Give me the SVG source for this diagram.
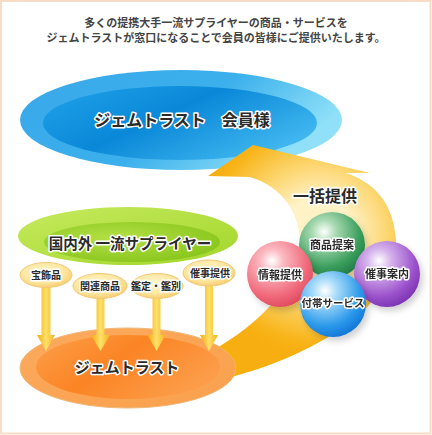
<svg xmlns="http://www.w3.org/2000/svg" width="432" height="435" viewBox="0 0 432 435">
<defs>
<style>
.t{font-family:"Noto Sans CJK JP","Noto Sans CJK SC",sans-serif;font-weight:bold;text-anchor:middle}
.title{fill:#444;font-size:11px}
.lbl{fill:#2a2a2a;stroke:#fff;stroke-width:3;paint-order:stroke;stroke-linejoin:round}
.tag{fill:url(#gTag);stroke:#f3c877;stroke-width:1}
.arr{fill:url(#gArr)}
</style>
<linearGradient id="gBlueOut" x1="0" y1="0" x2="1" y2="0.4">
<stop offset="0" stop-color="#39a7ea"/><stop offset="0.6" stop-color="#3bb0ec"/><stop offset="1" stop-color="#8fe0f8"/>
</linearGradient>
<linearGradient id="gBlueIn" x1="0" y1="0" x2="1" y2="0.6">
<stop offset="0" stop-color="#21a3ea"/><stop offset="0.5" stop-color="#0a88d8"/><stop offset="1" stop-color="#3fb6ef"/>
</linearGradient>
<linearGradient id="gGreenOut" x1="0" y1="0" x2="1" y2="1">
<stop offset="0" stop-color="#c6ea5e"/><stop offset="1" stop-color="#a2d62a"/>
</linearGradient>
<radialGradient id="gGreenIn" cx="0.4" cy="0.4" r="0.7">
<stop offset="0" stop-color="#b4e046"/><stop offset="1" stop-color="#86c41a"/>
</radialGradient>
<linearGradient id="gOrOut" x1="0" y1="0" x2="1" y2="1">
<stop offset="0" stop-color="#fcaa5e"/><stop offset="1" stop-color="#f9a04c"/>
</linearGradient>
<linearGradient id="gOrIn" x1="0" y1="0" x2="1" y2="0.5">
<stop offset="0" stop-color="#fda04a"/><stop offset="0.5" stop-color="#fb8424"/><stop offset="1" stop-color="#fc9c48"/>
</linearGradient>
<radialGradient id="gTag" cx="0.45" cy="0.4" r="0.65">
<stop offset="0" stop-color="#fff6d0"/><stop offset="0.6" stop-color="#fde8a4"/><stop offset="1" stop-color="#f7c866"/>
</radialGradient>
<linearGradient id="gArr" x1="0" y1="0" x2="1" y2="0">
<stop offset="0" stop-color="#f2ac10"/><stop offset="0.5" stop-color="#fde068"/><stop offset="1" stop-color="#f4b420"/>
</linearGradient>
<radialGradient id="gBand" gradientUnits="userSpaceOnUse" cx="318" cy="235" r="120">
<stop offset="0.3" stop-color="#fff2c6"/><stop offset="0.6" stop-color="#fcd46a"/><stop offset="0.9" stop-color="#f8b418"/><stop offset="1" stop-color="#f7ae10"/>
</radialGradient>
<radialGradient id="sGreen" cx="0.38" cy="0.3" r="0.72">
<stop offset="0" stop-color="#ffffff"/><stop offset="0.25" stop-color="#a9dab3"/><stop offset="0.75" stop-color="#3a9e5c"/><stop offset="1" stop-color="#23804a"/>
</radialGradient>
<radialGradient id="sPink" cx="0.38" cy="0.3" r="0.72">
<stop offset="0" stop-color="#ffffff"/><stop offset="0.25" stop-color="#fbb8c0"/><stop offset="0.75" stop-color="#f0687a"/><stop offset="1" stop-color="#e04c60"/>
</radialGradient>
<radialGradient id="sPurple" cx="0.38" cy="0.3" r="0.72">
<stop offset="0" stop-color="#ffffff"/><stop offset="0.25" stop-color="#d6b4ec"/><stop offset="0.75" stop-color="#9c52cc"/><stop offset="1" stop-color="#7e36b4"/>
</radialGradient>
<radialGradient id="sBlue" cx="0.38" cy="0.3" r="0.72">
<stop offset="0" stop-color="#ffffff"/><stop offset="0.25" stop-color="#a8dcfa"/><stop offset="0.75" stop-color="#2a98ea"/><stop offset="1" stop-color="#1478d8"/>
</radialGradient>
<filter id="shadow" x="-30%" y="-30%" width="160%" height="160%">
<feDropShadow dx="3" dy="4" stdDeviation="3" flood-color="#000" flood-opacity="0.18"/>
</filter>
<clipPath id="noOrange">
<path clip-rule="evenodd" d="M0 0H432V435H0Z M20 368 A108 40 0 1 0 236 368 A108 40 0 1 0 20 368 Z"/>
</clipPath>
</defs>

<rect x="1" y="1" width="429.5" height="432.5" fill="#fff" stroke="#f8dcc6" stroke-width="2"/>

<g id="intro">
<text class="t title" x="216" y="27">多くの提携大手一流サプライヤーの商品・サービスを</text>
<text class="t title" x="216" y="42">ジェムトラストが窓口になることで会員の皆様にご提供いたします。</text>
</g>

<g id="members">
<ellipse cx="181" cy="120" rx="161" ry="50" fill="url(#gBlueOut)"/>
<ellipse cx="180" cy="123" rx="137" ry="37" fill="url(#gBlueIn)"/>
<text class="t lbl" x="182" y="126" font-size="16">ジェムトラスト　会員様</text>
</g>

<g id="suppliers">
<ellipse cx="128" cy="236" rx="110" ry="29" fill="url(#gGreenOut)"/>
<ellipse cx="132" cy="242" rx="88" ry="20" fill="url(#gGreenIn)"/>
<text class="t lbl" x="130" y="249" font-size="14.5">国内外 一流サプライヤー</text>
</g>

<g id="gemtrust">
<ellipse cx="128" cy="368" rx="108" ry="40" fill="url(#gOrOut)" stroke="#efb878" stroke-width="1"/>
<ellipse cx="128" cy="367" rx="92" ry="32" fill="url(#gOrIn)"/>
<text class="t lbl" x="127" y="373" font-size="15">ジェムトラスト</text>
</g>

<g id="connectors">
<path id="bulk-arrow" clip-path="url(#noOrange)" fill="url(#gBand)" d="M212 382 C300 362 400 312 396 240 C393 200 372 182 346 173 L370 173 L253 145 L208 176 L250 177 C276 185 298 205 300 240 C302 270 285 292 268 308 C255 322 238 336 210 352 Z"/>
<path class="arr" d="M41.5 276 V335 H37 L46 351 L55 335 H50.5 V276 Z"/>
<path class="arr" d="M96.5 286 V335 H91 L100.5 351 L110 335 H104.5 V286 Z"/>
<path class="arr" d="M152.5 286 V335 H147.5 L156.5 351 L165.5 335 H160.5 V286 Z"/>
<path class="arr" d="M205 273 V335 H200 L209 351 L218 335 H213 V273 Z"/>
</g>

<g id="tag-jewelry">
<ellipse class="tag" cx="46" cy="275" rx="26" ry="12.5"/>
<text class="t lbl" x="46" y="279" font-size="10">宝飾品</text>
</g>
<g id="tag-related">
<ellipse class="tag" cx="100" cy="286" rx="27" ry="12.5"/>
<text class="t lbl" x="100" y="290" font-size="10">関連商品</text>
</g>
<g id="tag-appraisal">
<ellipse class="tag" cx="157" cy="286" rx="26" ry="12.5"/>
<text class="t lbl" x="156" y="290" font-size="10">鑑定・鑑別</text>
</g>
<g id="tag-event">
<ellipse class="tag" cx="209" cy="273" rx="26" ry="13"/>
<text class="t lbl" x="210" y="277" font-size="10">催事提供</text>
</g>

<g id="label-bulk">
<text class="t lbl" x="325" y="202" font-size="16">一括提供</text>
</g>

<g id="sphere-products" filter="url(#shadow)">
<circle cx="332" cy="245" r="33" fill="url(#sGreen)"/>
<text class="t lbl" x="332" y="249" font-size="11">商品提案</text>
</g>
<g id="sphere-info" filter="url(#shadow)">
<circle cx="280" cy="274" r="33" fill="url(#sPink)"/>
<text class="t lbl" x="280" y="279" font-size="11">情報提供</text>
</g>
<g id="sphere-events" filter="url(#shadow)">
<circle cx="387" cy="274" r="33" fill="url(#sPurple)"/>
<text class="t lbl" x="387" y="278" font-size="11">催事案内</text>
</g>
<g id="sphere-services" filter="url(#shadow)">
<circle cx="333" cy="304" r="33" fill="url(#sBlue)"/>
<text class="t lbl" x="333" y="307" font-size="10.5">付帯サービス</text>
</g>
</svg>
